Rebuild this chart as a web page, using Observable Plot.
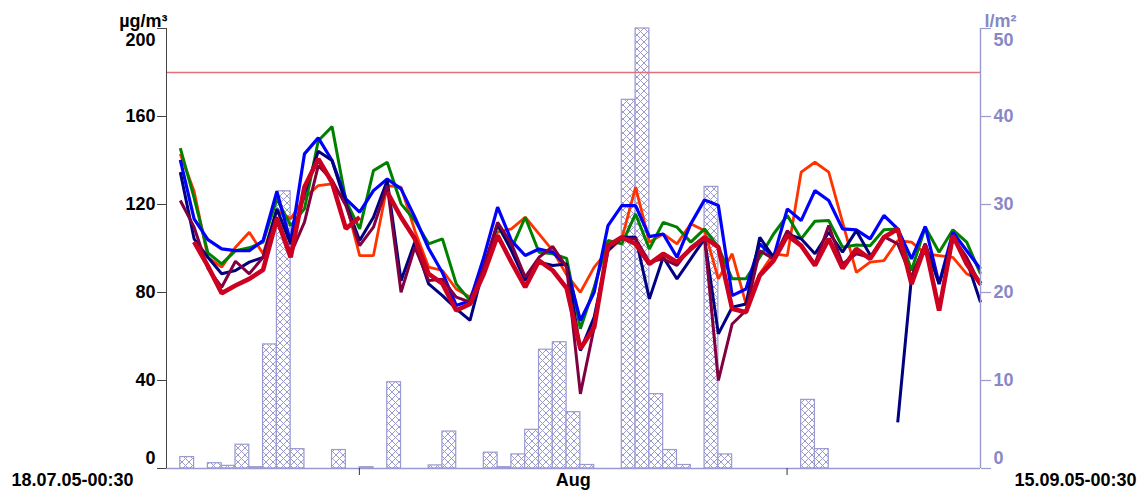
<!DOCTYPE html>
<html><head><meta charset="utf-8">
<script src="https://cdn.jsdelivr.net/npm/d3@7"></script>
<script src="https://cdn.jsdelivr.net/npm/@observablehq/plot@0.6"></script>
<style>
html,body{margin:0;padding:0;background:#fff;}
#chart svg{display:block;}
</style></head><body><div id="chart"></div>
<script>
// Daily values, day 1 = 19.07.05 ... day 59 = 15.09.05 (µg/m³)
const orangeSeries = [143,126,96,91.5,100.6,107.4,97.6,117.3,113.5,123,128.6,129.4,121,96.8,96.8,128.6,127.9,108.1,91.5,90,81.6,77.9,90,107.4,108.9,114.2,106.6,99,88,80.1,91.5,99,104.4,127.9,102.9,106.6,102.1,111.2,108.1,86.2,97.6,74.8,88.5,97.6,96.8,134.7,139.2,134.7,112,89.2,93.8,94.5,103.6,102.9,97.6,96.8,96,88.5,85.4];
const greenSeries = [145.6,123,98,93,99,100.3,102.9,122.5,110.4,118,149,155.4,121.8,108.9,135.4,139.2,120.3,112.7,102.1,104.4,83.9,76.3,91.5,110.4,99.8,114.2,98.3,97.6,95.5,63.5,82.4,103.6,102.1,115.7,99.8,111.9,109.7,102.9,108.9,100.6,86.2,86.2,96,106.6,115,104.4,112.4,112.7,100.6,101.6,101.3,108.5,108.9,90,109.7,98.3,108.5,102.9,88.5];
const blueSeries = [140.3,113.5,104,99.8,99,99,103.6,125.9,102.9,143,150.3,140,122.6,116.5,126.3,131.6,127.1,114.2,100,89,74.1,76.3,96,118.8,103.6,96.8,99.8,98.3,92,67.3,80.1,110.4,119.5,119.5,105.4,106.6,96,111.2,122.1,119.5,78.6,81.6,102.1,96,118,112.7,126.3,121.8,108.9,108.5,104.4,115,108.9,95.3,110,83.9,107.4,99,90.7];
const navySeries = [134.7,104.4,96,88.5,90,93.8,96,118,102,125,144.2,140,120.3,103.6,114.2,130.9,85.4,102.9,83.9,78.6,72.6,67.3,91.5,111.2,99,85.4,93.8,92.3,93,53.6,68.8,99,105.1,105.1,77.1,96,86.2,95.3,104.4,61.2,73.3,74.8,105.1,96,106.6,104.4,97.6,107.4,98.3,108.1,97,null,21,87,102.1,83.9,105.1,94.5,75.6];
const maroonSeries = [121.8,109.7,91,82.4,94.2,88.5,96,114.2,97.6,112,137.7,131,119.5,101.3,109.7,128.6,80.1,100.6,85.4,86,77.9,75.6,91.5,111.9,102.1,87,96,100.9,91.5,33.9,64.2,100.6,104.4,104.4,93.8,95.3,92.3,100.6,105.1,40,65.7,71.8,99,95.3,108.1,101.3,93,110.4,93,97.6,96,105.4,102.1,87,102.1,72,105.1,96,83.2];
const redSeries = [null,103,92,79.7,83.2,86.2,90.3,113.5,96,128,140.7,130,109,114.2,null,125.6,114.2,104.4,88.5,84,71.8,74.8,88.5,105.9,93.8,82.4,94.5,90,82,54.4,64.2,101.3,105.1,102.1,93,97.6,93.8,99.8,105.1,100.6,72.6,71,87.7,94.5,105.9,101.3,92.3,104.4,91,99.8,95.3,105.1,108.9,83.9,101.3,71.8,105.9,93,83.9];
const seriesColors = ["#ff3300","#008000","#0000ff","#000080","#800040","#cc0020"];
const seriesWidths = [2.8,3,3.2,3,3,4.6];

// Daily precipitation (l/m²): day index and amount
const rainDays =   [1,3,4,5,6,7,8,9,12,14,16,19,20,23,24,25,26,27,28,29,30,33,34,35,36,37,39,40,46,47];
const rainValues = [1.3,0.6,0.3,2.7,0.15,14.1,31.5,2.2,2.1,0.15,9.8,0.35,4.2,1.8,0.15,1.6,4.4,13.5,14.35,6.4,0.4,41.9,50,8.45,2.1,0.4,32,1.6,7.8,2.2];

const leftTicks = [0,40,80,120,160,200];
const rightTicks = [0,10,20,30,40,50];
const limitValue = 180;
const leftUnit = "µg/m³", rightUnit = "l/m²";
const startLabel = "18.07.05-00:30", endLabel = "15.09.05-00:30", monthLabel = "Aug";

const t0 = Date.UTC(2005,6,18,0,30);
const DAY = 864e5;
const dayDate = k => new Date(t0 + k*DAY);
const ratio = 200/50;
const lav = "#9a9ad0", lavText = "#8888c6";
const font = {fontSize: 18, fontWeight: "bold"};

const allSeries = [orangeSeries, greenSeries, blueSeries, navySeries, maroonSeries, redSeries];
const lineMarks = allSeries.map((vals, s) => Plot.line(vals.map((v,i)=>({date: dayDate(i+1), v})), {
  x: "date", y: "v", stroke: seriesColors[s], strokeWidth: seriesWidths[s],
  strokeLinejoin: "miter", strokeLinecap: "butt"
}));
const rain = rainDays.map((d,i)=>({day:d, v:rainValues[i]}));

const leftMid = leftTicks.slice(1, -1), rightMid = rightTicks.slice(1, -1);
const leftLabel = (vals, dy) => Plot.text(vals, {y: d => d, frameAnchor: "left", textAnchor: "end", dx: -11, dy, ...font, fill: "#000"});
const rightLabel = (vals, dy) => Plot.text(vals, {y: d => d*ratio, text: d => String(d), frameAnchor: "right", textAnchor: "start", dx: 13, dy, ...font, fill: lavText});

const svg = Plot.plot({
  width: 1141, height: 497,
  marginLeft: 166, marginRight: 161, marginTop: 28, marginBottom: 29,
  style: {fontFamily: "'Liberation Sans', Arial, Helvetica, sans-serif", background: "#fff"},
  x: {type: "utc", domain: [dayDate(0), dayDate(59)], axis: null},
  y: {domain: [0, 200], axis: null},
  marks: [
    Plot.rect(rain, {x1: d=>dayDate(d.day), x2: d=>dayDate(d.day+1), y1: 0, y2: d=>d.v*ratio,
      fill: "url(#hatch)", stroke: lav, strokeWidth: 1.2}),
    Plot.ruleY([0], {stroke: lav, strokeWidth: 1.4}),
    Plot.ruleY([limitValue], {stroke: "#e0707c", strokeWidth: 1.5}),
    ...lineMarks,
    Plot.ruleX([dayDate(0)], {y1: 0, y2: 200, stroke: "#444", strokeWidth: 1}),
    Plot.ruleX([dayDate(59)], {y1: 0, y2: 200, stroke: lav, strokeWidth: 1.4}),
    Plot.axisY(leftTicks, {anchor: "left", tickSize: 9, tickFormat: () => "", stroke: "#444", label: null}),
    Plot.axisY(rightTicks.map(v=>v*ratio), {anchor: "right", tickSize: 10, tickFormat: () => "", stroke: lav, strokeWidth: 1.2, label: null}),
    leftLabel(leftMid, 0), leftLabel([leftTicks[leftTicks.length-1]], 12), leftLabel([leftTicks[0]], -10),
    rightLabel(rightMid, 0), rightLabel([rightTicks[rightTicks.length-1]], 12), rightLabel([rightTicks[0]], -10),
    Plot.axisX([new Date(Date.UTC(2005,7,1)), new Date(Date.UTC(2005,8,1))], {anchor: "bottom", tickSize: 7,
      tickFormat: () => "", stroke: "#333", label: null}),
    Plot.text([leftUnit], {frameAnchor: "top-left", textAnchor: "end", dx: 1, dy: -14, ...font, fill: "#000"}),
    Plot.text([rightUnit], {frameAnchor: "top-right", textAnchor: "start", dx: 4, dy: -14, ...font, fill: lavText}),
    Plot.text([startLabel], {frameAnchor: "bottom-left", textAnchor: "end", dx: -33, dy: 17.7, ...font, fill: "#000"}),
    Plot.text([endLabel], {frameAnchor: "bottom-right", textAnchor: "start", dx: 34, dy: 17.7, ...font, fill: "#000"}),
    Plot.text([monthLabel], {x: () => new Date(Date.UTC(2005,7,16,12)), frameAnchor: "bottom", dy: 17.7, ...font, fill: "#000"})
  ]
});

const defs = d3.select(svg).insert("defs", ":first-child");
const pat = defs.append("pattern").attr("id","hatch").attr("patternUnits","userSpaceOnUse")
  .attr("width",7).attr("height",7);
pat.append("rect").attr("width",7).attr("height",7).attr("fill","#fff");
pat.append("path").attr("d","M0,0L7,7M7,0L0,7M-1,6L1,8M6,-1L8,1").attr("stroke",lav).attr("stroke-width",1).attr("fill","none");

document.getElementById("chart").appendChild(svg);
</script></body></html>
